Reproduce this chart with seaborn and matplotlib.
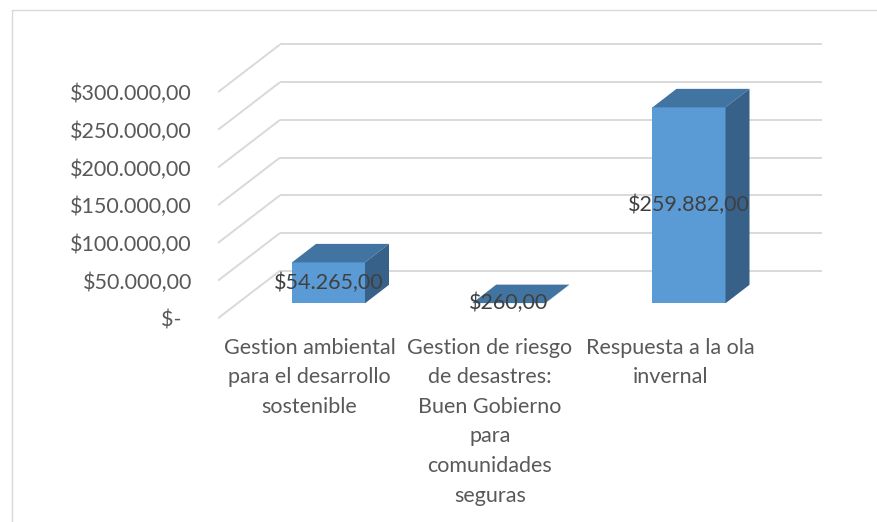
import numpy as np
import seaborn as sns
import matplotlib.pyplot as plt
from matplotlib.patches import Polygon
from matplotlib.lines import Line2D

categories = ["Gestion ambiental\npara el desarrollo\nsostenible",
              "Gestion de riesgo\nde desastres:\nBuen Gobierno\npara\ncomunidades\nseguras",
              "Respuesta a la ola\ninvernal"]
values = [54265, 260, 259882]
value_labels = ["$54.265,00", "$260,00", "$259.882,00"]
ticks = [0, 50000, 100000, 150000, 200000, 250000, 300000]
tick_labels = ["$-  ", "$50.000,00", "$100.000,00", "$150.000,00",
               "$200.000,00", "$250.000,00", "$300.000,00"]

sns.set_style("white")
plt.rcParams["font.family"] = ["Lato", "DejaVu Sans"]

W, H = 877, 522
fig = plt.figure(figsize=(W / 100, H / 100), dpi=100)

# axes box in pixels (from top-left)
ax_l, ax_r, ax_t, ax_b = 218, 822, 30, 330
ax = fig.add_axes([ax_l / W, 1 - ax_b / H, (ax_r - ax_l) / W, (ax_b - ax_t) / H])

# scale: bar 0 centre at 328.5 px, 180.25 px per category; 37.7 px per 50000
xpp = 1 / 180.25
upp = 50000 / 37.7
base = 303.3
ax.set_xlim(-(328.5 - ax_l) * xpp, -(328.5 - ax_l) * xpp + (ax_r - ax_l) * xpp)
ax.set_ylim((base - ax_b) * upp, (base - ax_t) * upp)
x0, x1 = ax.get_xlim()

front_off = 15 * upp     # front edge of floor/wall lines below value
back_off = 32.6 * upp    # back wall above value
xb = x0 + 62 * xpp       # where the diagonal meets the back wall

grid_c = "#d9d9d9"
for v in ticks:
    ax.plot([x0, xb], [v - front_off, v + back_off], color=grid_c, lw=1.4, zorder=0,
            solid_capstyle="butt")
    ax.plot([xb, x1], [v + back_off, v + back_off], color=grid_c, lw=1.4, zorder=0,
            solid_capstyle="butt")

sns.barplot(x=list(range(len(values))), y=values, color="#5B9BD5", saturation=1,
            width=0.405, errorbar=None, linewidth=0, ax=ax, zorder=2)
ax.set_xlim(x0, x1)

# 3d faces
ddx, ddy = 24 * xpp, 18.5 * upp
for p in ax.patches[:len(values)]:
    bx, bw, bh = p.get_x(), p.get_width(), p.get_height()
    top = [(bx, bh), (bx + bw, bh), (bx + bw + ddx, bh + ddy), (bx + ddx, bh + ddy)]
    side = [(bx + bw, 0), (bx + bw, bh), (bx + bw + ddx, bh + ddy), (bx + bw + ddx, ddy)]
    ax.add_patch(Polygon(top, closed=True, fc="#4274a1", ec="none", zorder=2))
    ax.add_patch(Polygon(side, closed=True, fc="#386189", ec="none", zorder=2))

fs = 15.5
for i, (v, lab) in enumerate(zip(values, value_labels)):
    ax.text(i, v / 2, lab, ha="center", va="center", fontsize=fs, color="#404040", zorder=5)

ax.set_xticks([i - 19 * xpp for i in range(len(categories))], categories,
              fontsize=fs, color="#595959", linespacing=1.6)
ax.set_yticks([t - front_off for t in ticks], tick_labels, fontsize=fs, color="#595959")
ax.tick_params(axis="x", length=0, pad=5.5)
ax.tick_params(axis="y", length=0, pad=18.7)
ax.set_xlabel("")
ax.set_ylabel("")
sns.despine(ax=ax, left=True, bottom=True)

# chart border
fig.add_artist(Line2D([11.5 / W, 11.5 / W], [0, 1 - 10 / H], color=grid_c, lw=1))
fig.add_artist(Line2D([11.5 / W, 1], [1 - 10 / H, 1 - 10 / H], color=grid_c, lw=1))

fig.savefig("out.png", dpi=100, facecolor="white")
